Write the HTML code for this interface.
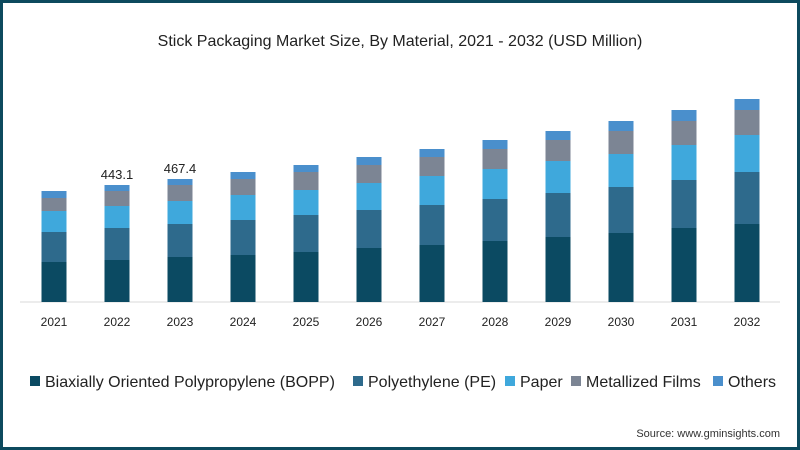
<!DOCTYPE html>
<html><head><meta charset="utf-8"><style>
body{margin:0;width:800px;height:450px;overflow:hidden;background:#fff;}
svg{display:block;font-family:"Liberation Sans",sans-serif;}
</style></head><body>
<svg width="800" height="450" viewBox="0 0 800 450">
<rect x="1.5" y="1.5" width="797" height="447" fill="#fff" stroke="#0d4a5e" stroke-width="3"/>
<text x="400" y="46" text-anchor="middle" font-size="16" fill="#222">Stick Packaging Market Size, By Material, 2021 - 2032 (USD Million)</text>
<line x1="20" y1="302" x2="780" y2="302" stroke="#d8d8d8" stroke-width="1"/>
<g id="bars"></g>
<text x="117" y="179" text-anchor="middle" font-size="13" fill="#222">443.1</text>
<text x="180" y="173" text-anchor="middle" font-size="13" fill="#222">467.4</text>
<g font-size="12" fill="#222" text-anchor="middle" id="xl"></g>
<g font-size="16" fill="#222">
<rect x="30" y="376" width="10" height="10" fill="#0b4a62"/><text x="45" y="387">Biaxially Oriented Polypropylene (BOPP)</text>
<rect x="353" y="376" width="10" height="10" fill="#2e6a8c"/><text x="368" y="387">Polyethylene (PE)</text>
<rect x="505" y="376" width="10" height="10" fill="#3fa8dc"/><text x="520" y="387">Paper</text>
<rect x="571" y="376" width="10" height="10" fill="#7c8594"/><text x="586" y="387">Metallized Films</text>
<rect x="713" y="376" width="10" height="10" fill="#4a8fcc"/><text x="728" y="387">Others</text>
</g>
<text x="780" y="437" text-anchor="end" font-size="11" fill="#333">Source: www.gminsights.com</text>
</svg>
<script>
var d=[[191,198,211,232,262],[185,191,206,228,260],[179,185,201,224,257],[172,179,195,220,255],[165,172,190,215,252],[157,165,183,210,248],[149,157,176,205,245],[140,149,169,199,241],[131,140,161,193,237],[121,131,154,187,233],[110,121,145,180,228],[99,110,135,172,224]];
var c=["#4a8fcc","#7c8594","#3fa8dc","#2e6a8c","#0b4a62"];
var ns="http://www.w3.org/2000/svg",g=document.getElementById("bars"),xl=document.getElementById("xl");
d.forEach(function(b,i){var cx=54+i*63;var ys=b.concat([302]);
for(var k=0;k<5;k++){var r=document.createElementNS(ns,"rect");r.setAttribute("x",cx-12.5);r.setAttribute("y",ys[k]);r.setAttribute("width",25);r.setAttribute("height",ys[k+1]-ys[k]);r.setAttribute("fill",c[k]);g.appendChild(r);}
var t=document.createElementNS(ns,"text");t.setAttribute("x",cx);t.setAttribute("y",326);t.textContent=2021+i;xl.appendChild(t);});
</script>
</body></html>
